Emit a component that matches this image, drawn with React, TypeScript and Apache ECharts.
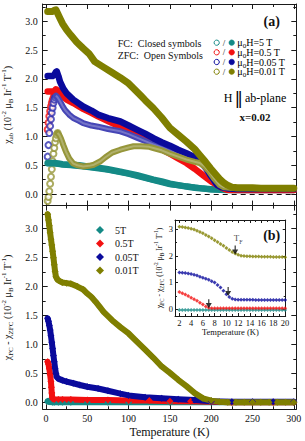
import React, { useEffect, useRef } from 'react';
import * as echarts from 'echarts';

const FONT = "'Liberation Serif', 'DejaVu Serif', serif";
const INK = '#111111';
const TEAL = '#148a86';
const RED = '#f21010';
const BLUE = '#0a0a9c';
const OLIVE = '#7f7f00';
const BLUE_OPEN = '#4646b6';
const OLIVE_OPEN = '#96963a';

// ---------- Panel (a): chi_ab vs T (FC closed, ZFC open) ----------
const aFc5T_T = [2, 5, 10, 15, 20, 30, 40, 50, 63, 75, 90, 100, 110, 120, 130, 140, 150, 160, 170, 180, 190, 200, 211, 220, 230, 240, 250, 260, 270, 280, 290, 300];
const aFc5T_V = [0.54, 0.54, 0.54, 0.53, 0.52, 0.51, 0.50, 0.48, 0.46, 0.43, 0.39, 0.36, 0.33, 0.29, 0.25, 0.22, 0.18, 0.155, 0.13, 0.11, 0.095, 0.085, 0.075, 0.07, 0.07, 0.07, 0.07, 0.07, 0.07, 0.07, 0.07, 0.07];
const aZfc5T_T = [2, 4, 6, 8, 10, 15, 20, 30, 50, 75, 100, 150, 200, 250, 300];
const aZfc5T_V = [0.53, 0.53, 0.53, 0.53, 0.53, 0.52, 0.51, 0.50, 0.47, 0.42, 0.35, 0.17, 0.08, 0.07, 0.07];

const aFc05T_T = [2, 4, 6, 8, 10, 12, 14, 17, 21, 25, 33, 40, 45, 55, 63, 75, 90, 100, 110, 120, 130, 140, 150, 160, 170, 180, 190, 200, 207, 213, 219, 225, 235, 250, 265, 280, 300];
const aFc05T_V = [1.78, 1.78, 1.78, 1.78, 1.79, 1.82, 1.80, 1.75, 1.69, 1.64, 1.58, 1.52, 1.48, 1.41, 1.35, 1.27, 1.17, 1.10, 1.02, 0.94, 0.86, 0.78, 0.70, 0.62, 0.54, 0.44, 0.33, 0.22, 0.16, 0.11, 0.075, 0.07, 0.07, 0.07, 0.07, 0.07, 0.07];
const aZfc05T_T = [2, 3, 4, 5, 6, 7, 8, 9, 10, 11, 12];
const aZfc05T_V = [1.12, 1.24, 1.35, 1.44, 1.52, 1.58, 1.63, 1.67, 1.71, 1.74, 1.76];

const aFc005T_T = [2, 4, 6, 8, 10, 12, 13, 15, 17, 21, 25, 33, 40, 45, 55, 63, 75, 90, 100, 110, 120, 130, 140, 150, 160, 170, 180, 186, 193, 199, 203, 207, 212, 220, 230, 245, 260, 275, 290, 300];
const aFc005T_V = [2.05, 2.05, 2.05, 2.05, 2.07, 2.12, 2.13, 2.05, 1.95, 1.83, 1.75, 1.64, 1.57, 1.52, 1.45, 1.38, 1.32, 1.26, 1.19, 1.12, 1.05, 0.97, 0.90, 0.84, 0.77, 0.71, 0.64, 0.60, 0.48, 0.33, 0.25, 0.16, 0.12, 0.10, 0.09, 0.09, 0.09, 0.09, 0.09, 0.09];
const aZfc005T_T = [2, 3, 4, 5, 6, 7, 8, 9, 10, 11, 12, 14, 17, 20, 23, 28, 33, 40, 45, 55, 63, 75, 90, 100, 110, 120, 130, 140, 150, 160, 170, 180, 186, 193, 200, 207, 215, 225, 240, 260, 280, 300];
const aZfc005T_V = [0.65, 0.85, 1.06, 1.18, 1.30, 1.41, 1.50, 1.58, 1.64, 1.68, 1.71, 1.68, 1.61, 1.53, 1.46, 1.38, 1.32, 1.27, 1.23, 1.19, 1.17, 1.13, 1.09, 1.04, 0.98, 0.92, 0.86, 0.81, 0.75, 0.70, 0.65, 0.60, 0.58, 0.45, 0.30, 0.16, 0.11, 0.09, 0.09, 0.09, 0.09, 0.09];

const aFc001T_T = [2, 4, 6, 8, 10, 12, 14, 17, 20, 25, 30, 37, 45, 52, 59, 70, 79, 90, 100, 114, 120, 130, 140, 150, 160, 170, 180, 186, 193, 199, 205, 211, 215, 219, 225, 232, 240, 250, 260, 270, 280, 290, 300];
const aFc001T_V = [3.17, 3.17, 3.17, 3.17, 3.19, 3.20, 3.14, 3.05, 2.96, 2.85, 2.76, 2.64, 2.53, 2.44, 2.30, 2.20, 2.12, 2.02, 1.92, 1.72, 1.63, 1.49, 1.33, 1.15, 1.03, 0.91, 0.78, 0.68, 0.56, 0.45, 0.35, 0.25, 0.20, 0.16, 0.12, 0.11, 0.11, 0.11, 0.10, 0.10, 0.10, 0.10, 0.10];
const aZfc001T_T = [2, 3, 4, 5, 6, 7, 8, 9, 10, 11, 12, 13, 14, 16, 18, 21, 24, 28, 33, 38, 45, 52, 58, 66, 72, 80, 90, 100, 106, 115, 125, 130, 140, 150, 160, 170, 180, 186, 192, 197, 203, 210, 215, 222, 230, 245, 260, 275, 290, 300];
const aZfc001T_V = [-0.12, -0.05, 0.05, 0.18, 0.30, 0.43, 0.57, 0.70, 0.80, 0.90, 0.97, 1.03, 1.06, 1.03, 0.97, 0.85, 0.74, 0.62, 0.53, 0.50, 0.48, 0.49, 0.51, 0.57, 0.64, 0.72, 0.77, 0.81, 0.83, 0.83, 0.82, 0.80, 0.76, 0.70, 0.65, 0.60, 0.56, 0.54, 0.48, 0.40, 0.28, 0.16, 0.12, 0.11, 0.10, 0.10, 0.10, 0.10, 0.10, 0.10];

// ---------- Panel (b): chi_FC - chi_ZFC vs T ----------
const b5T_T = [2, 3, 4, 5, 6, 8, 10, 15, 20, 30, 50, 75, 100, 150, 200, 250, 300];
const b5T_V = [0.02, 0.02, 0.01, 0.01, 0.01, 0.0, 0.0, 0.0, 0.0, 0.0, 0.0, 0.0, 0.0, 0.0, 0.0, 0.0, 0.0];
const b05T_T = [2, 3, 4, 5, 6, 6.5, 7, 7.5, 8, 10, 15, 20, 30, 50, 75, 100, 125, 150, 175, 200, 225, 250, 275, 300];
const b05T_V = [0.70, 0.66, 0.58, 0.48, 0.36, 0.26, 0.16, 0.09, 0.06, 0.05, 0.05, 0.05, 0.05, 0.04, 0.04, 0.03, 0.03, 0.02, 0.02, 0.01, 0.0, 0.0, 0.0, 0.0];
const b005T_T = [2, 3, 4, 5, 6, 7, 8, 9, 10, 11, 12, 13, 15, 20, 25, 33, 41, 50, 63, 75, 90, 100, 120, 140, 160, 180, 200, 225, 250, 275, 300];
const b005T_V = [1.45, 1.40, 1.33, 1.25, 1.15, 1.04, 0.93, 0.81, 0.70, 0.59, 0.50, 0.44, 0.41, 0.38, 0.36, 0.33, 0.30, 0.27, 0.24, 0.20, 0.15, 0.12, 0.09, 0.07, 0.055, 0.04, 0.02, 0.01, 0.01, 0.01, 0.01];
const b001T_T = [2, 3, 4, 5, 6, 7, 8, 9, 10, 11, 12, 14, 16, 20, 25, 30, 38, 45, 50, 55, 60, 65, 70, 80, 90, 100, 110, 120, 130, 140, 150, 160, 170, 180, 190, 200, 210, 220, 230, 240, 250, 260, 270, 280, 290, 300];
const b001T_V = [3.25, 3.15, 3.05, 2.93, 2.82, 2.72, 2.61, 2.50, 2.38, 2.26, 2.17, 2.12, 2.10, 2.07, 2.06, 2.05, 2.00, 1.95, 1.88, 1.82, 1.74, 1.65, 1.56, 1.42, 1.30, 1.19, 1.05, 0.91, 0.77, 0.62, 0.51, 0.39, 0.28, 0.16, 0.07, 0.03, 0.01, 0.0, 0.0, 0.0, 0.0, 0.0, 0.0, 0.0, 0.0, 0.0];

// ---------- Inset: low-T detail ----------
const insT = [2, 2.5, 3, 3.5, 4, 4.5, 5, 5.5, 6, 6.5, 7, 7.5, 8, 8.5, 9, 9.5, 10, 10.5, 11, 11.5, 12, 12.5, 13, 13.5, 14, 14.5, 15, 15.5, 16, 16.5, 17, 17.5, 18, 18.5, 19, 19.5, 20];
const ins001T = [3.10, 3.09, 3.07, 3.05, 3.02, 2.99, 2.95, 2.90, 2.85, 2.79, 2.73, 2.66, 2.59, 2.52, 2.45, 2.38, 2.30, 2.22, 2.15, 2.09, 2.04, 2.01, 2.00, 1.99, 1.99, 1.98, 1.98, 1.98, 1.97, 1.97, 1.97, 1.97, 1.96, 1.96, 1.96, 1.96, 1.95];
const ins005T = [1.38, 1.37, 1.36, 1.34, 1.32, 1.29, 1.26, 1.22, 1.18, 1.14, 1.10, 1.05, 1.00, 0.91, 0.81, 0.69, 0.56, 0.45, 0.39, 0.36, 0.35, 0.35, 0.35, 0.35, 0.35, 0.35, 0.34, 0.34, 0.34, 0.34, 0.34, 0.34, 0.34, 0.34, 0.34, 0.34, 0.34];
const ins05T = [0.64, 0.60, 0.55, 0.49, 0.43, 0.37, 0.31, 0.24, 0.17, 0.10, 0.05, 0.03, 0.03, 0.03, 0.03, 0.03, 0.03, 0.03, 0.03, 0.03, 0.03, 0.03, 0.03, 0.03, 0.03, 0.03, 0.03, 0.03, 0.03, 0.03, 0.03, 0.03, 0.03, 0.03, 0.03, 0.03, 0.03];
const ins5T = [-0.03, -0.03, -0.03, -0.03, -0.03, -0.03, -0.03, -0.03, -0.03, -0.03, -0.03, -0.03, -0.03, -0.03, -0.03, -0.03, -0.03, -0.03, -0.03, -0.03, -0.03, -0.03, -0.03, -0.03, -0.03, -0.03, -0.03, -0.03, -0.03, -0.03, -0.03, -0.03, -0.03, -0.03, -0.03, -0.03, -0.03];
const arrowT = [7.0, 10.3, 11.5];
const arrowV = [0.2, 0.66, 2.22];

// ---------- Ticks ----------
const mainXMajor = [0, 50, 100, 150, 200, 250, 300];
const mainXMinor = [25, 75, 125, 175, 225, 275];
const mainYMajor = [0, 0.5, 1.0, 1.5, 2.0, 2.5, 3.0];
const mainYMinor = [0.25, 0.75, 1.25, 1.75, 2.25, 2.75, 3.25];
const insXMajor = [2, 4, 6, 8, 10, 12, 14, 16, 18, 20];
const insXMinor = [3, 5, 7, 9, 11, 13, 15, 17, 19];
const insYMajor = [0, 1, 2, 3];
const insYMinor = [0.5, 1.5, 2.5];

const fieldLabelsA = ['5 T', '0.5 T', '0.05 T', '0.01 T'];
const fieldLabelsB = ['5T', '0.5T', '0.05T', '0.01T'];
const fieldColors = [TEAL, RED, BLUE, OLIVE];

const pairs = (t: number[], v: number[]) => t.map((x, i) => [x, v[i]]);
const AX = { color: '#1a1a1a', width: 1 };

function makeAxes(dim: 'x' | 'y', grid: number, min: number, max: number, major: number[], minor: number[], majorLen: number, minorLen: number, label: any, nameOpts: any) {
  const posA = dim === 'x' ? 'bottom' : 'left';
  const posB = dim === 'x' ? 'top' : 'right';
  const mk = (pos: string, ticks: number[], len: number, showLine: boolean, lab: any, nm: any) => ({
    type: 'value',
    gridIndex: grid,
    min,
    max,
    position: pos,
    splitLine: { show: false },
    axisLine: { show: showLine, onZero: false, lineStyle: AX },
    axisTick: { show: true, inside: true, length: len, customValues: ticks, lineStyle: AX },
    axisLabel: lab ? { show: true, customValues: major, color: INK, fontFamily: FONT, ...lab } : { show: false },
    ...(nm || {}),
  });
  return [
    mk(posA, major, majorLen, true, label, nameOpts),
    mk(posA, minor, minorLen, false, null, null),
    mk(posB, major, majorLen, true, null, null),
    mk(posB, minor, minorLen, false, null, null),
  ];
}

function richStyles(base: number, small: number) {
  return {
    n: { fontSize: base, fontFamily: FONT, color: INK, lineHeight: base + 4 },
    s: { fontSize: small, fontFamily: FONT, color: INK, lineHeight: small, verticalAlign: 'bottom' },
    p: { fontSize: small, fontFamily: FONT, color: INK, lineHeight: small, verticalAlign: 'top' },
    b: { fontSize: base + 5, fontFamily: "'DejaVu Serif', serif", color: INK, lineHeight: base + 4, padding: [0, 2, 0, 2] },
  };
}

const unitsRich = '{n| (10}{p|-2}{n| μ}{s|B}{n| Ir}{p|-1}{n| T}{p|-1}{n|)}';

function buildOption() {
  const xAxes = [
    ...makeAxes('x', 0, -4, 303, mainXMajor, mainXMinor, 5, 3, null, null),
    ...makeAxes('x', 1, -4, 303, mainXMajor, mainXMinor, 5, 3, { fontSize: 10, margin: 4 }, {
      name: 'Temperature (K)', nameLocation: 'middle', nameGap: 17,
      nameTextStyle: { fontFamily: FONT, fontSize: 12, color: INK },
    }),
    ...makeAxes('x', 2, 1.25, 20.1, insXMajor, insXMinor, 3, 2, { fontSize: 8.5, margin: 2 }, {
      name: 'Temperature (K)', nameLocation: 'middle', nameGap: 9,
      nameTextStyle: { fontFamily: FONT, fontSize: 8.5, color: INK },
    }),
  ];
  const yAxes = [
    ...makeAxes('y', 0, -0.2, 3.3, mainYMajor, mainYMinor, 5, 3, { fontSize: 10, margin: 5, formatter: (v: number) => v.toFixed(1) }, {
      name: '{n|χ}{s|ab}' + unitsRich, nameLocation: 'middle', nameRotate: 90, nameGap: 24,
      nameTextStyle: { rich: richStyles(10, 7) },
    }),
    ...makeAxes('y', 1, -0.12, 3.4, mainYMajor, mainYMinor, 5, 3, { fontSize: 10, margin: 5, formatter: (v: number) => v.toFixed(1) }, {
      name: '{n|χ}{s|FC}{n| - χ}{s|ZFC}' + unitsRich, nameLocation: 'middle', nameRotate: 90, nameGap: 24,
      nameTextStyle: { rich: richStyles(10, 7) },
    }),
    ...makeAxes('y', 2, -0.26, 3.35, insYMajor, insYMinor, 3, 2, { fontSize: 8.5, margin: 2, formatter: (v: number) => String(v) }, {
      name: '{n|χ}{s|FC}{n| - χ}{s|ZFC}' + '{n| (10}{p|-2}{n| μ}{s|B}{n| Ir}{p|-1}{n| T}{p|-1}{n|)}',
      nameLocation: 'middle', nameRotate: 90, nameGap: 6,
      nameTextStyle: { rich: richStyles(7.5, 5.5) },
    }),
  ];

  const base = (g: number) => ({ xAxisIndex: 4 * g, yAxisIndex: 4 * g, silent: true, emphasis: { disabled: true } });

  const band = (name: string, t: number[], v: number[], color: string, g: number, width: number) => ({
    ...base(g), name, type: 'line', data: pairs(t, v), symbol: 'circle', showSymbol: false,
    lineStyle: { color, width, cap: 'round', join: 'round' }, itemStyle: { color },
  });
  const diamondBand = (name: string, t: number[], v: number[], color: string) => ({
    ...base(1), name, type: 'line', data: pairs(t, v), symbol: 'diamond', symbolSize: 7, showSymbol: true,
    lineStyle: { color, width: 6, cap: 'round', join: 'round' }, itemStyle: { color, borderWidth: 0 },
  });
  const openRise = (name: string, t: number[], v: number[], color: string, cut: number) => ({
    ...base(0), name, type: 'scatter',
    data: pairs(t, v).filter((p) => p[0] <= cut),
    symbol: 'emptyCircle', symbolSize: 6,
    itemStyle: { color, borderColor: color, borderWidth: 1 },
  });
  const openBand = (name: string, t: number[], v: number[], color: string, cut: number) => [
    {
      ...base(0), name, type: 'line', data: pairs(t, v).filter((p) => p[0] >= cut), showSymbol: false, symbol: 'none',
      lineStyle: { color, width: 6, cap: 'round', join: 'round' },
    },
    {
      ...base(0), name: name + ' inner', type: 'line', data: pairs(t, v).filter((p) => p[0] >= cut), showSymbol: false, symbol: 'none',
      lineStyle: { color: 'rgba(255,255,255,0.25)', width: 2, join: 'round' },
    },
  ];

  const series: any[] = [
    // panel (a)
    {
      ...band('ZFC μ0H=5 T', aZfc5T_T, aZfc5T_V, TEAL, 0, 6),
      markLine: {
        silent: true, symbol: ['none', 'none'], label: { show: false },
        lineStyle: { color: '#111', width: 1, type: [5, 4] },
        data: [{ yAxis: 0 }],
      },
    },
    band('FC μ0H=5 T', aFc5T_T, aFc5T_V, TEAL, 0, 6.5),
    openRise('ZFC μ0H=0.5 T', aZfc05T_T, aZfc05T_V, RED, 12),
    band('FC μ0H=0.5 T', aFc05T_T, aFc05T_V, RED, 0, 6.5),
    openRise('ZFC μ0H=0.05 T', aZfc005T_T, aZfc005T_V, '#3030b0', 12),
    ...openBand('ZFC μ0H=0.05 T band', aZfc005T_T, aZfc005T_V, BLUE_OPEN, 12),
    band('FC μ0H=0.05 T', aFc005T_T, aFc005T_V, BLUE, 0, 6.5),
    openRise('ZFC μ0H=0.01 T', aZfc001T_T, aZfc001T_V, OLIVE_OPEN, 14),
    ...openBand('ZFC μ0H=0.01 T band', aZfc001T_T, aZfc001T_V, OLIVE_OPEN, 14),
    band('FC μ0H=0.01 T', aFc001T_T, aFc001T_V, OLIVE, 0, 7),
    // panel (b)
    diamondBand(fieldLabelsB[0], b5T_T, b5T_V, TEAL),
    diamondBand(fieldLabelsB[1], b05T_T, b05T_V, RED),
    diamondBand(fieldLabelsB[2], b005T_T, b005T_V, BLUE),
    diamondBand(fieldLabelsB[3], b001T_T, b001T_V, OLIVE),
    // inset
    ...[ins5T, ins05T, ins005T, ins001T].map((vals, i) => ({
      ...base(2), name: 'inset ' + fieldLabelsB[i], type: 'scatter', data: pairs(insT, vals),
      symbol: 'diamond', symbolSize: 4, itemStyle: { color: fieldColors[i] },
    })),
    {
      ...base(2), name: 'T_F arrows', type: 'scatter',
      data: pairs(arrowT, arrowV).map((p, i) => (i === 2 ? {
        value: p,
        label: {
          show: true, position: 'top', distance: 1, offset: [3, 0],
          formatter: '{n|T}{s|F}', rich: richStyles(9, 6),
        },
      } : { value: p })),
      symbol: 'path://M4,0L6,0L6,6L10,6L5,14L0,6L4,6Z', symbolSize: [6, 9],
      itemStyle: { color: '#000' }, z: 5,
    },
  ];

  const legendRowsY = [42.7, 52.3, 62, 71.7];
  const legendEls: any[] = [];
  fieldLabelsA.forEach((lab, i) => {
    const y = legendRowsY[i];
    legendEls.push({ type: 'circle', shape: { cx: 216.7, cy: y, r: 2.6 }, style: { fill: '#fff', stroke: fieldColors[i], lineWidth: 1 } });
    legendEls.push({ type: 'text', x: 224, y, style: { text: '/', fill: INK, fontSize: 9, fontFamily: FONT, align: 'center', verticalAlign: 'middle' } });
    legendEls.push({ type: 'circle', shape: { cx: 231.7, cy: y, r: 2.8 }, style: { fill: fieldColors[i], stroke: fieldColors[i], lineWidth: 0.5 } });
    legendEls.push({
      type: 'text', x: 237.3, y,
      style: { text: '{n|μ}{s|0}{n|H=' + lab + '}', rich: richStyles(10, 7), align: 'left', verticalAlign: 'middle' },
    });
  });

  const textEl = (text: string, x: number, y: number, size: number, align: string, weight = 'normal') => ({
    type: 'text', x, y,
    style: { text, fill: INK, fontSize: size, fontFamily: FONT, fontWeight: weight, align, verticalAlign: 'middle' },
  });

  return {
    animation: false,
    backgroundColor: '#ffffff',
    textStyle: { fontFamily: FONT },
    grid: [
      { left: 42.7, top: 4, width: 253.6, height: 201.6, containLabel: false, outerBoundsMode: 'none' },
      { left: 42.7, top: 205.6, width: 253.6, height: 203.7, containLabel: false, outerBoundsMode: 'none' },
      { left: 175, top: 220, width: 110.7, height: 96, containLabel: false, outerBoundsMode: 'none' },
    ],
    xAxis: xAxes,
    yAxis: yAxes,
    legend: {
      data: fieldLabelsB, orient: 'vertical', left: 91, top: 220, icon: 'diamond',
      itemWidth: 8, itemHeight: 8, itemGap: 3.5, selectedMode: false,
      textStyle: { fontFamily: FONT, fontSize: 10, color: INK, lineHeight: 10, padding: [0, 0, 0, 6] },
    },
    graphic: {
      elements: [
        textEl('(a)', 271.7, 21.7, 14, 'center', 'bold'),
        textEl('FC:  Closed symbols', 117.7, 43.3, 10, 'left'),
        textEl('ZFC:  Open Symbols', 117.7, 55, 10, 'left'),
        {
          type: 'text', x: 255, y: 98.3,
          style: { text: '{n|H}{b|‖}{n|ab-plane}', rich: richStyles(12, 8), align: 'center', verticalAlign: 'middle' },
        },
        textEl('x=0.02', 255, 116.7, 11, 'center', 'bold'),
        textEl('(b)', 271.7, 235, 14, 'center', 'bold'),
        ...legendEls,
      ],
    },
    series,
  };
}

export default function App() {
  const ref = useRef<HTMLDivElement>(null);
  useEffect(() => {
    if (!ref.current) return;
    const chart = echarts.init(ref.current, null, { renderer: 'svg' });
    chart.setOption(buildOption() as any);
    return () => chart.dispose();
  }, []);
  return (
    <div
      ref={ref}
      style={{ position: 'fixed', left: 0, top: 0, width: 305, height: 441, background: '#fff' }}
    />
  );
}
